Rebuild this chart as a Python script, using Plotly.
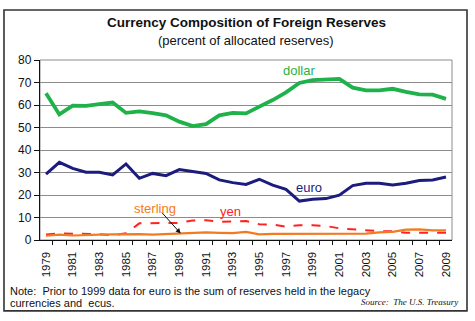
import plotly.graph_objects as go

years = list(range(1979, 2010))

dollar = [65.2, 55.8, 59.7, 59.6, 60.4, 61.1, 56.5, 57.2, 56.4, 55.4, 52.6, 50.6,
          51.5, 55.4, 56.5, 56.3, 59.3, 62.2, 65.6, 69.8, 71.1, 71.4, 71.6, 67.7,
          66.5, 66.5, 67.2, 65.8, 64.7, 64.6, 62.7]
euro = [29.3, 34.5, 31.8, 30.1, 30.1, 28.9, 33.8, 27.4, 29.6, 28.6, 31.3, 30.6,
        29.6, 26.7, 25.5, 24.7, 27.0, 24.4, 22.5, 17.3, 18.1, 18.4, 19.9, 24.2,
        25.2, 25.2, 24.4, 25.2, 26.4, 26.7, 28.0]
sterling = [1.9, 2.4, 2.0, 2.3, 2.4, 2.5, 2.7, 2.6, 2.4, 2.6, 2.9, 3.2,
            3.4, 3.2, 3.1, 3.6, 2.5, 2.7, 2.7, 2.9, 3.0, 2.8, 2.7, 2.8,
            2.8, 3.4, 3.6, 4.6, 4.7, 4.3, 4.3]
yen = [2.5, 2.9, 2.8, 2.7, 2.6, 2.1, 3.0, 7.4, 7.4, 7.4, 7.6, 8.7,
       8.8, 8.1, 8.2, 8.4, 7.0, 6.9, 5.9, 6.6, 6.6, 6.2, 5.2, 4.7,
       4.2, 3.9, 3.9, 3.2, 3.2, 3.2, 3.2]

tick_years = list(range(1979, 2010, 2))
y_ticks = list(range(0, 81, 10))

GREEN = "#1FB24A"
NAVY = "#1C1B7E"
ORANGE = "#F47A22"
RED = "#FF2222"

fig = go.Figure()
fig.add_trace(go.Scatter(x=years, y=yen, mode="lines",
                         line=dict(color=RED, width=2, dash="dash")))
fig.add_trace(go.Scatter(x=years, y=sterling, mode="lines",
                         line=dict(color=ORANGE, width=2.2)))
fig.add_trace(go.Scatter(x=years, y=euro, mode="lines",
                         line=dict(color=NAVY, width=3)))
fig.add_trace(go.Scatter(x=years, y=dollar, mode="lines",
                         line=dict(color=GREEN, width=3.8)))

font_main = "Liberation Sans, Arial, sans-serif"

annotations = [
    dict(x=0.5, y=1.206, xref="paper", yref="paper", showarrow=False,
         yanchor="middle",
         text="<b>Currency Composition of Foreign Reserves</b>",
         font=dict(size=13.5, color="#111", family=font_main)),
    dict(x=0.5, y=1.111, xref="paper", yref="paper", showarrow=False,
         yanchor="middle",
         text="(percent of allocated reserves)",
         font=dict(size=13, color="#111", family=font_main)),
    dict(x=1998.0, y=75.2, xref="x", yref="y", showarrow=False, text="dollar",
         font=dict(size=13, color=GREEN, family=font_main)),
    dict(x=1998.7, y=23.2, xref="x", yref="y", showarrow=False, text="euro",
         font=dict(size=13, color=NAVY, family=font_main)),
    dict(x=1987.2, y=14.0, xref="x", yref="y", showarrow=False, text="sterling",
         font=dict(size=13, color=ORANGE, family=font_main)),
    dict(x=1992.8, y=12.8, xref="x", yref="y", showarrow=False, text="yen",
         font=dict(size=13, color=RED, family=font_main)),
    dict(x=1989.1, y=2.9, ax=1987.6, ay=12.8, xref="x", yref="y",
         axref="x", ayref="y", showarrow=True, text="",
         arrowhead=2, arrowsize=1, arrowwidth=1, arrowcolor="#111"),
    dict(x=-0.077, y=-0.282, xref="paper", yref="paper", showarrow=False,
         xanchor="left", yanchor="middle", align="left",
         text="Note:  Prior to 1999 data for euro is the sum of reserves held in the legacy",
         font=dict(size=11, color="#111", family=font_main)),
    dict(x=-0.077, y=-0.348, xref="paper", yref="paper", showarrow=False,
         xanchor="left", yanchor="middle", align="left",
         text="currencies and  ecus.",
         font=dict(size=11, color="#111", family=font_main)),
    dict(x=1.02, y=-0.343, xref="paper", yref="paper", showarrow=False,
         xanchor="right", yanchor="middle",
         text="<i>Source:  The U.S. Treasury</i>",
         font=dict(size=9, color="#111", family="Liberation Serif, Times New Roman, serif")),
]

shapes = [
    # outer frame
    dict(type="rect", xref="paper", yref="paper", x0=-0.0874, x1=1.0364,
         y0=-0.394, y1=1.278, line=dict(color="#333", width=1.6)),
    # plot area border (top/right)
    dict(type="rect", xref="paper", yref="paper", x0=0, x1=1, y0=0, y1=1,
         line=dict(color="#8c8c8c", width=1), layer="below"),
]

fig.update_layout(
    width=475, height=321,
    margin=dict(l=40, r=23, t=60, b=81),
    paper_bgcolor="white", plot_bgcolor="white",
    showlegend=False,
    font=dict(family=font_main, size=11, color="#111"),
    annotations=annotations,
    shapes=shapes,
)

fig.update_xaxes(
    range=[1978.55, 2009.45],
    tickmode="array", tickvals=tick_years, ticktext=[str(y) for y in tick_years],
    tickangle=-90, ticks="", ticklabelstandoff=6,
    showgrid=False, zeroline=False,
    showline=True, linecolor="#111", linewidth=1.3,
    minor=dict(ticks="outside", tick0=1978.5, dtick=1, ticklen=4,
               tickcolor="#111", tickwidth=1, showgrid=False),
    tickfont=dict(size=11.5, color="#111"),
)
fig.update_yaxes(
    range=[0, 80],
    tickmode="array", tickvals=y_ticks,
    ticks="outside", ticklen=5, tickcolor="#111",
    showgrid=True, gridcolor="#8c8c8c", gridwidth=1,
    zeroline=False,
    showline=True, linecolor="#111", linewidth=1.3,
    tickfont=dict(size=12, color="#111"),
)

fig.write_html("out.html")
